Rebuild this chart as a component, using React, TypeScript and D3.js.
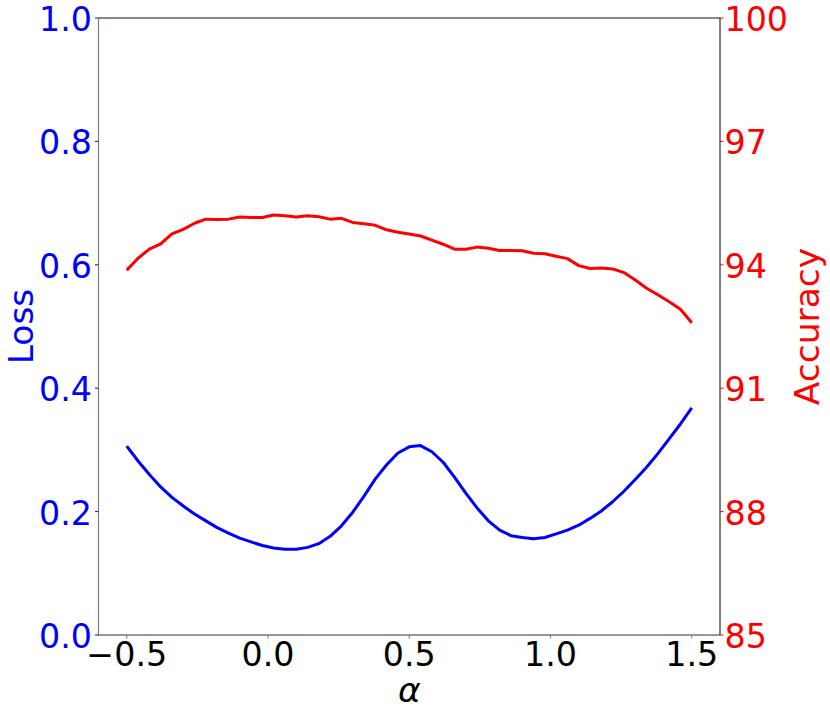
import React from "react";
import * as d3 from "d3";

const alphaStart = -0.5;
const alphaStep = 0.04;

const lossValues = [
  0.306, 0.282, 0.26, 0.24, 0.223, 0.209, 0.196, 0.185, 0.174, 0.165,
  0.157, 0.151, 0.145, 0.141, 0.139, 0.139, 0.142, 0.148, 0.16, 0.177,
  0.199, 0.225, 0.253, 0.276, 0.295, 0.305, 0.307, 0.297, 0.28, 0.256,
  0.23, 0.206, 0.185, 0.17, 0.161, 0.158, 0.156, 0.158, 0.164, 0.17,
  0.178, 0.189, 0.201, 0.216, 0.233, 0.252, 0.272, 0.294, 0.318, 0.342,
  0.368,
];

const accuracyValues = [
  93.87, 94.16, 94.38, 94.51, 94.75, 94.86, 95.01, 95.11, 95.1, 95.11,
  95.16, 95.15, 95.15, 95.21, 95.19, 95.16, 95.19, 95.17, 95.11, 95.13,
  95.03, 95.0, 94.96, 94.85, 94.79, 94.75, 94.7, 94.6, 94.5, 94.38,
  94.38, 94.43, 94.4, 94.35, 94.35, 94.34, 94.28, 94.27, 94.21, 94.15,
  93.98, 93.91, 93.92, 93.9, 93.81, 93.63, 93.43, 93.27, 93.1, 92.92,
  92.59,
];

const xTicks = [-0.5, 0.0, 0.5, 1.0, 1.5];
const lossTicks = [0.0, 0.2, 0.4, 0.6, 0.8, 1.0];
const accTicks = [85, 88, 91, 94, 97, 100];

const W = 830;
const H = 714;
const left = 98.5;
const right = 720;
const top = 18;
const bottom = 635;
const FONT = "DejaVu Sans";
const FS = 33.3;
const LFS = 34.5;

export default function App() {
  const x = d3.scaleLinear().domain([-0.6, 1.6]).range([left, right]);
  const yL = d3.scaleLinear().domain([0, 1]).range([bottom, top]);
  const yR = d3.scaleLinear().domain([85, 100]).range([bottom, top]);

  const alphas = lossValues.map((_, i) => alphaStart + i * alphaStep);

  const lossLine = d3
    .line<number>()
    .x((_, i) => x(alphas[i]))
    .y((d) => yL(d));
  const accLine = d3
    .line<number>()
    .x((_, i) => x(alphas[i]))
    .y((d) => yR(d));

  const fmtMinus = (v: number) => {
    const s = v.toFixed(1);
    return s.startsWith("-") ? "\u2212" + s.slice(1) : s;
  };

  return (
    <svg
      width={W}
      height={H}
      style={{ position: "absolute", left: 0, top: 0, background: "#fff" }}
      fontFamily={FONT}
    >
      <rect x={0} y={0} width={W} height={H} fill="#fff" />
      <path d={lossLine(lossValues) || ""} fill="none" stroke="#0000ff" strokeWidth={3} strokeLinejoin="round" />
      <path d={accLine(accuracyValues) || ""} fill="none" stroke="#ff0000" strokeWidth={3} strokeLinejoin="round" />

      {/* spines */}
      <line x1={left} x2={left} y1={top} y2={bottom} stroke="#808080" strokeWidth={1.2} />
      <line x1={right} x2={right} y1={top} y2={bottom} stroke="#000" strokeWidth={1} />
      <line x1={left} x2={right} y1={top} y2={top} stroke="#111" strokeWidth={1.2} />
      <line x1={left} x2={right} y1={bottom} y2={bottom} stroke="#333" strokeWidth={1.2} />

      {/* x ticks */}
      {xTicks.map((t) => (
        <g key={"x" + t}>
          <line x1={x(t)} x2={x(t)} y1={bottom} y2={bottom + 3.5} stroke="#777" strokeWidth={1} />
          <text x={x(t)} y={666} fontSize={FS} textAnchor="middle" fill="#000">
            {fmtMinus(t)}
          </text>
        </g>
      ))}

      {/* left ticks */}
      {lossTicks.map((t) => (
        <g key={"l" + t}>
          <line x1={left - 3.5} x2={left} y1={yL(t)} y2={yL(t)} stroke="#0000ff" strokeWidth={1} />
          <text x={92} y={yL(t) + 13} fontSize={FS} textAnchor="end" fill="#0000ff">
            {t.toFixed(1)}
          </text>
        </g>
      ))}

      {/* right ticks */}
      {accTicks.map((t) => (
        <g key={"r" + t}>
          <line x1={right} x2={right + 3.5} y1={yR(t)} y2={yR(t)} stroke="#ff0000" strokeWidth={1} />
          <text x={724.5} y={yR(t) + 13} fontSize={FS} textAnchor="start" fill="#ff0000">
            {t}
          </text>
        </g>
      ))}

      {/* axis labels */}
      <text
        transform={`translate(33, ${(top + bottom) / 2}) rotate(-90)`}
        fontSize={LFS}
        textAnchor="middle"
        fill="#0000ff"
      >
        Loss
      </text>
      <text
        transform={`translate(819, ${(top + bottom) / 2}) rotate(-90)`}
        fontSize={LFS}
        textAnchor="middle"
        fill="#ff0000"
      >
        Accuracy
      </text>
      <text
        x={(left + right) / 2}
        y={702}
        fontSize={LFS}
        textAnchor="middle"
        fontStyle="italic"
        fill="#000"
      >
        α
      </text>
    </svg>
  );
}
